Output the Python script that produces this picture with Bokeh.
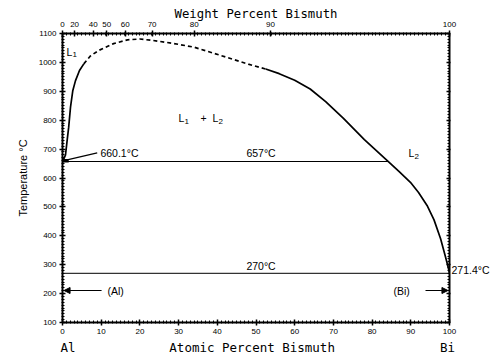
from bokeh.plotting import figure
from bokeh.models import (Range1d, LinearAxis, FixedTicker, Label, Arrow, NormalHead)
from bokeh.embed import file_html
from bokeh.resources import INLINE

# ---- data (atomic % Bi, temperature in degC) ----
l1_solid_x = [0.0, 0.4, 0.78, 1.2, 1.6, 2.07, 2.67, 3.36, 4.39, 5.5]
l1_solid_y = [660.1, 668, 680, 730, 776, 845, 903, 937, 972, 995]
l1_dash_x = [5.5, 7.2, 9.3, 13.2, 16.8, 20.0, 23.3, 28.5, 33.9, 39.0, 44.2, 48.0, 52.5]
l1_dash_y = [995, 1022, 1041, 1065, 1078, 1081, 1076, 1066, 1053, 1032, 1010, 994, 977]
l2_x = [52.5, 56.0, 60.0, 64.0, 68.0, 72.6, 78.0, 84.2, 87.0, 89.9, 92.0, 94.2, 96.0, 97.7, 98.8, 99.5, 100.0]
l2_y = [977, 961, 938, 908, 864, 806, 733, 657, 622, 585, 550, 505, 455, 390, 335, 300, 271.4]

monotectic_T = 657.0
monotectic_x = [0.0, 84.2]
eutectic_T = 270.0
eutectic_x = [0.0, 100.0]
al_melt_T = 660.1
bi_melt_T = 271.4

bottom_ticks = list(range(0, 101, 10))
left_ticks = list(range(100, 1101, 100))
wt_labels = [0, 20, 40, 50, 60, 70, 80, 90, 100]
M_AL, M_BI = 26.98, 208.98


def wt_to_at(w):
    if w >= 100:
        return 100.0
    nb = w / M_BI
    na = (100 - w) / M_AL
    return round(100 * nb / (nb + na), 3)


wt_pos = [wt_to_at(w) for w in wt_labels]

p = figure(width=500, height=357, output_backend="svg", toolbar_location=None,
           x_range=Range1d(0, 100), y_range=Range1d(100, 1100),
           min_border_left=62, min_border_right=51, min_border_top=33, min_border_bottom=35,
           x_axis_location=None, y_axis_location=None)
p.xgrid.visible = False
p.ygrid.visible = False
p.outline_line_color = None
p.background_fill_color = "white"
p.border_fill_color = "white"

TICK_FONT = "Liberation Sans"
MONO = "DejaVu Sans Mono"


def style_axis(ax):
    ax.axis_line_width = 2
    ax.axis_line_color = "black"
    ax.major_tick_line_color = "black"
    ax.major_tick_line_width = 1.5
    ax.major_tick_in = 3
    ax.major_tick_out = 3
    ax.minor_tick_line_color = "black"
    ax.minor_tick_line_width = 1
    ax.minor_tick_in = 2
    ax.minor_tick_out = 1
    ax.major_label_text_font = TICK_FONT
    ax.major_label_text_font_size = "8px"
    ax.major_label_text_color = "black"
    ax.major_label_standoff = 2
    ax.axis_label_text_font_style = "normal"
    ax.axis_label_text_color = "black"


def plain_axis(ax, font, size, standoff):
    ax.axis_line_color = None
    ax.major_tick_line_color = None
    ax.minor_tick_line_color = None
    ax.major_tick_out = 0
    ax.major_tick_in = 0
    ax.minor_tick_out = 0
    ax.minor_tick_in = 0
    ax.major_label_text_font = font
    ax.major_label_text_font_size = size
    ax.major_label_text_color = "black"
    ax.major_label_standoff = standoff


# bottom: ticks + numbers
bottom = LinearAxis(ticker=FixedTicker(ticks=bottom_ticks, minor_ticks=list(range(0, 101))))
style_axis(bottom)
bottom.major_label_standoff = 3
p.add_layout(bottom, "below")

# bottom second row: Al, title, Bi
row_pos = [1.4, 49.0, 99.5]
row_text = ["Al", "Atomic Percent Bismuth", "Bi"]
bottom2 = LinearAxis(ticker=FixedTicker(ticks=row_pos, minor_ticks=[]))
plain_axis(bottom2, MONO, "12.5px", 3)
bottom2.major_label_overrides = {pos: t for pos, t in zip(row_pos, row_text)}
p.add_layout(bottom2, "below")

left = LinearAxis(ticker=FixedTicker(ticks=left_ticks, minor_ticks=list(range(100, 1101, 10))))
style_axis(left)
left.major_label_standoff = 3
left.axis_label = "Temperature \u00b0C"
left.axis_label_text_font = "Liberation Sans"
left.axis_label_text_font_size = "11px"
left.axis_label_standoff = 7
p.add_layout(left, "left")

top = LinearAxis(ticker=FixedTicker(ticks=wt_pos, minor_ticks=list(range(0, 101))))
style_axis(top)
top.major_label_standoff = 4
top.major_label_overrides = {pos: str(w) for pos, w in zip(wt_pos, wt_labels)}
top.axis_label = "Weight Percent Bismuth"
top.axis_label_text_font = MONO
top.axis_label_text_font_size = "12.3px"
top.axis_label_standoff = -2
p.add_layout(top, "above")

right = LinearAxis(ticker=FixedTicker(ticks=left_ticks, minor_ticks=list(range(100, 1101, 10))))
style_axis(right)
right.major_tick_out = 1
right.minor_tick_out = 0
right.major_label_standoff = 0
right.major_label_overrides = {t: "" for t in left_ticks}
p.add_layout(right, "right")

right2 = LinearAxis(ticker=FixedTicker(ticks=[bi_melt_T + 11], minor_ticks=[]))
plain_axis(right2, TICK_FONT, "10.5px", 1)
right2.major_label_overrides = {bi_melt_T + 11: "271.4\u00b0C"}
p.add_layout(right2, "right")

# ---- curves ----
p.line(l1_solid_x, l1_solid_y, line_color="black", line_width=1.7)
p.line(l1_dash_x, l1_dash_y, line_color="black", line_width=1.7, line_dash="4 3")
p.line(l2_x, l2_y, line_color="black", line_width=1.7)
p.line(monotectic_x, [monotectic_T] * 2, line_color="black", line_width=1.1)
p.line(eutectic_x, [eutectic_T] * 2, line_color="#333333", line_width=1.1)
p.line([0.0, 1.6], [al_melt_T, al_melt_T], line_color="black", line_width=3.5)
# leader for 660.1
p.line([1.2, 8.97], [663, 687], line_color="black", line_width=1.2)

# arrows
p.add_layout(Arrow(end=NormalHead(size=6, fill_color="black", line_color="black"),
                   x_start=10.1, y_start=210.7, x_end=0.4, y_end=210.7,
                   line_color="black", line_width=1))
p.add_layout(Arrow(end=NormalHead(size=6, fill_color="black", line_color="black"),
                   x_start=93.8, y_start=210.7, x_end=99.6, y_end=210.7,
                   line_color="black", line_width=1))

ANN_FONT = "Liberation Sans"


def lab(x, y, text, size="10.5px", font=ANN_FONT, align="left", xo=0, yo=0):
    p.add_layout(Label(x=x, y=y, text=text, text_font=font, text_font_size=size,
                       text_align=align, text_baseline="middle",
                       x_offset=xo, y_offset=yo, text_color="black"))


lab(9.8, 684.8, "660.1\u00b0C")
lab(51.3, 688, "657\u00b0C", align="center")
lab(51.3, 293.8, "270\u00b0C", align="center")
lab(11.6, 208.3, "(Al)")
lab(85.5, 208.3, "(Bi)")


def L_label(x, y, sub, xo=0):
    lab(x, y, "L", size="10.5px", xo=xo)
    lab(x, y, sub, size="8px", xo=xo + 6, yo=-3)


L_label(0.78, 1037.7, "1", xo=1)
L_label(30.0, 806, "1")
lab(30.0, 806, "+", size="10.5px", xo=22)
L_label(30.0, 806, "2", xo=34)
L_label(89.4, 684.8, "2")

open("out.html", "w").write(file_html(p, INLINE))
